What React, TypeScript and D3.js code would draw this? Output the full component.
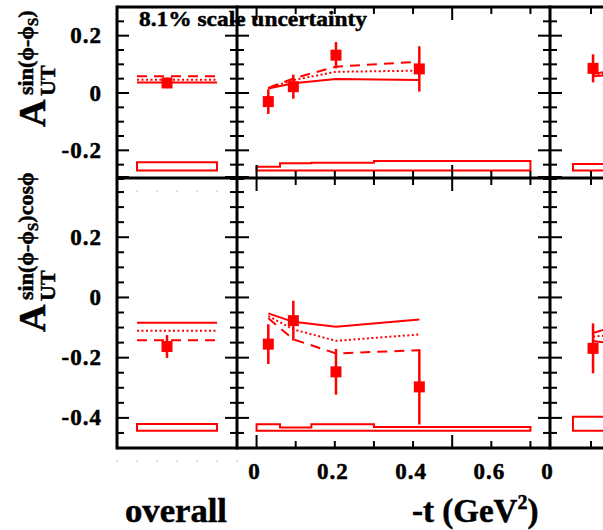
import React from "react";
import * as d3 from "d3";

// ---------- data ----------
const tBins = [0, 0.06, 0.14, 0.3, 0.7];
const tPoints = [0.03, 0.094, 0.203, 0.416];

// A_UT^{sin(phi-phiS)}
const sinVal = [-0.03, 0.022, 0.132, 0.084];
const sinErr = [0.043, 0.042, 0.046, 0.079];
const sinSolid = [0.016, 0.034, 0.049, 0.045];
const sinDotted = [0.017, 0.045, 0.074, 0.078];
const sinDashed = [0.018, 0.051, 0.092, 0.109];
const sinSys = [0.013, 0.025, 0.027, 0.033];
const sinSysBase = -0.27;

// A_UT^{sin(phi-phiS)cos phi}
const cosVal = [-0.155, -0.077, -0.247, -0.297];
const cosErr = [0.066, 0.066, 0.076, 0.125];
const cosSolid = [-0.053, -0.081, -0.097, -0.073];
const cosDotted = [-0.062, -0.106, -0.144, -0.123];
const cosDashed = [-0.069, -0.139, -0.186, -0.175];
const cosSys = [0.022, 0.011, 0.022, 0.013];
const cosSysBase = -0.443;

// overall [sin, cos]
const overallVal = [0.035, -0.163];
const overallErr = [0.018, 0.038];
const overallSolid = [0.037, -0.084];
const overallDotted = [0.046, -0.111];
const overallDashed = [0.058, -0.142];
const overallSys = [0.028, 0.023];

// right (third) panel, partially visible
const rBins = [0.056, 0.3];
const rPoints = [0.105, 0.2];
const rSinVal = [0.086];
const rSinErr = [0.049];
const rSinSolid = [0.058, 0.07];
const rSinDotted = [0.062, 0.08];
const rSinDashed = [0.066, 0.09];
const rSinSys = [0.022];
const rCosVal = [-0.169];
const rCosErr = [0.083];
const rCosSolid = [-0.118, -0.08];
const rCosDotted = [-0.13, -0.12];
const rCosDashed = [-0.145, -0.16];
const rCosSys = [0.047];

const yTickLabelsTop = [0.2, 0, -0.2];
const yTickLabelsBot = [0.2, 0, -0.2, -0.4];
const xTickLabels = [0, 0.2, 0.4, 0.6];

// ---------- layout ----------
const X0 = 117, X1 = 237, X2 = 550, XR = 700;
const YT = 7, YM = 178, YB = 448;
const RED = "#ff0000";
const FONT = "'Liberation Serif', 'Times New Roman', serif";

const yTop = d3.scaleLinear().domain([-0.3, 0.3]).range([179, YT]);
const yBot = d3.scaleLinear().domain([-0.5, 0.4]).range([YB, 177]);
const xLeft = d3.scaleLinear().domain([0, 6]).range([X0, X1]);
const xMid = d3.scaleLinear().domain([-0.05, 0.75]).range([X1, X2]);
const xRight = d3.scaleLinear().domain([0, 0.1]).range([X2, 591]);

const fmt = (v: number) => (Math.abs(v) < 1e-9 ? "0" : String(+v.toFixed(2)));

function sysPath(bins: number[], h: number[], base: number, x: any, y: any) {
  let p = `M${x(bins[0])},${y(base)}`;
  for (let i = 0; i < h.length; i++) {
    p += `L${x(bins[i])},${y(base + h[i])}L${x(bins[i + 1])},${y(base + h[i])}`;
  }
  p += `L${x(bins[bins.length - 1])},${y(base)}Z`;
  return p;
}

function Curves({ xs, solid, dotted, dashed, x, y }: any) {
  const mk = (vals: number[]) =>
    d3.line<number>().x((_, i) => x(xs[i])).y((v) => y(v))(vals) || "";
  return (
    <g fill="none" stroke={RED} strokeWidth={2}>
      <path d={mk(solid)} />
      <path d={mk(dotted)} strokeDasharray="2,2.5" />
      <path d={mk(dashed)} strokeDasharray="10,7" />
    </g>
  );
}

function Points({ xs, vals, errs, x, y }: any) {
  return (
    <g>
      {vals.map((v: number, i: number) => (
        <g key={i}>
          <line x1={x(xs[i])} x2={x(xs[i])} y1={y(v - errs[i])} y2={y(v + errs[i])} stroke={RED} strokeWidth={2.5} />
          <rect x={x(xs[i]) - 5.5} y={y(v) - 5.5} width={11} height={11} fill={RED} />
        </g>
      ))}
    </g>
  );
}

function YTicks({ y, dom, xPos, dir }: any) {
  const vals = d3.range(Math.round(dom[0] / 0.05), Math.round(dom[1] / 0.05) + 1).map((k) => k * 0.05);
  return (
    <g stroke="#000" strokeWidth={2}>
      {vals.map((v, i) => {
        const major = Math.abs(v / 0.2 - Math.round(v / 0.2)) < 1e-6;
        const len = major ? 12 : 7;
        return <line key={i} x1={xPos} x2={xPos + dir * len} y1={y(v)} y2={y(v)} />;
      })}
    </g>
  );
}

function XTicksMid({ yPos, dir }: any) {
  const vals = d3.range(0, 8).map((k) => k * 0.1);
  return (
    <g stroke="#000" strokeWidth={2}>
      {vals.map((v, i) => {
        const major = Math.abs(v / 0.5 - Math.round(v / 0.5)) < 1e-6;
        const len = major ? 13 : 7;
        return <line key={i} x1={xMid(v)} x2={xMid(v)} y1={yPos} y2={yPos + dir * len} />;
      })}
    </g>
  );
}

function XTicksRight({ yPos, dir }: any) {
  return (
    <g stroke="#000" strokeWidth={2}>
      {[0.1].map((v, i) => (
        <line key={i} x1={xRight(v)} x2={xRight(v)} y1={yPos} y2={yPos + dir * 7} />
      ))}
    </g>
  );
}

const T = (p: any) => <text fontFamily={FONT} fontWeight="bold" stroke="#000" strokeWidth={0.5} {...p} />;

export default function App() {
  const rows = [
    { y: yTop, dom: [-0.3, 0.3], idx: 0, val: sinVal, err: sinErr, s: sinSolid, d: sinDotted, da: sinDashed, sys: sinSys, base: sinSysBase,
      rv: rSinVal, re: rSinErr, rs: rSinSolid, rd: rSinDotted, rda: rSinDashed, rsys: rSinSys },
    { y: yBot, dom: [-0.5, 0.4], idx: 1, val: cosVal, err: cosErr, s: cosSolid, d: cosDotted, da: cosDashed, sys: cosSys, base: cosSysBase,
      rv: rCosVal, re: rCosErr, rs: rCosSolid, rd: rCosDotted, rda: rCosDashed, rsys: rCosSys },
  ];
  return (
    <svg width={603} height={530} style={{ position: "absolute", left: 0, top: 0, background: "#fff" }}>
      <rect x={0} y={0} width={603} height={530} fill="#fff" />
      {rows.map((r) => (
        <g key={r.idx}>
          {/* overall panel */}
          <path d={sysPath([1, 5], [overallSys[r.idx]], r.base, xLeft, r.y)} fill="#fff" stroke={RED} strokeWidth={2} />
          <Curves xs={[1, 5]} solid={[overallSolid[r.idx], overallSolid[r.idx]]} dotted={[overallDotted[r.idx], overallDotted[r.idx]]}
            dashed={[overallDashed[r.idx], overallDashed[r.idx]]} x={xLeft} y={r.y} />
          <Points xs={[2.5]} vals={[overallVal[r.idx]]} errs={[overallErr[r.idx]]} x={xLeft} y={r.y} />
          {/* -t panel */}
          <path d={sysPath(tBins, r.sys, r.base, xMid, r.y)} fill="#fff" stroke={RED} strokeWidth={2} />
          <Curves xs={tPoints} solid={r.s} dotted={r.d} dashed={r.da} x={xMid} y={r.y} />
          <Points xs={tPoints} vals={r.val} errs={r.err} x={xMid} y={r.y} />
          {/* third panel */}
          <path d={sysPath(rBins, r.rsys, r.base, xRight, r.y)} fill="#fff" stroke={RED} strokeWidth={2} />
          <Curves xs={rPoints} solid={r.rs} dotted={r.rd} dashed={r.rda} x={xRight} y={r.y} />
          <Points xs={rPoints} vals={r.rv} errs={r.re} x={xRight} y={r.y} />
          {/* y ticks */}
          <YTicks y={r.y} dom={r.dom} xPos={X0} dir={1} />
          <YTicks y={r.y} dom={r.dom} xPos={X1} dir={-1} />
          <YTicks y={r.y} dom={r.dom} xPos={X1} dir={1} />
          <YTicks y={r.y} dom={r.dom} xPos={X2} dir={-1} />
          <YTicks y={r.y} dom={r.dom} xPos={X2} dir={1} />
          {(r.idx === 0 ? yTickLabelsTop : yTickLabelsBot).map((v, i) => (
            <T key={i} x={102} y={r.y(v) + 7.5} fontSize={23} textAnchor="end" letterSpacing={1}>{fmt(v)}</T>
          ))}
        </g>
      ))}
      {/* x ticks */}
      <XTicksMid yPos={YT} dir={1} />
      <XTicksMid yPos={YM} dir={-1} />
      <XTicksMid yPos={YM} dir={1} />
      <XTicksMid yPos={YB} dir={-1} />
      <XTicksRight yPos={YT} dir={1} />
      <XTicksRight yPos={YM} dir={-1} />
      <XTicksRight yPos={YM} dir={1} />
      <XTicksRight yPos={YB} dir={-1} />
      {/* faint overall ticks */}
      <g fill="#c8c8c8">
        {d3.range(0, 7).map((k) => (
          <rect key={"a" + k} x={xLeft(k) - 0.75} y={460.5} width={1.5} height={1.5} />
        ))}
        {d3.range(1, 6).map((k) => (
          <rect key={"b" + k} x={xLeft(k) - 0.75} y={190.5} width={1.5} height={1.5} />
        ))}
      </g>
      <T x={139} y={26} fontSize={22} textLength={228} lengthAdjust="spacingAndGlyphs">8.1% scale uncertainty</T>
      {/* frames */}
      <g stroke="#000" strokeWidth={3} fill="none">
        <line x1={X0} x2={XR} y1={YT} y2={YT} />
        <line x1={X0} x2={XR} y1={YM} y2={YM} />
        <line x1={X0} x2={XR} y1={YB} y2={YB} />
        <line x1={X0} x2={X0} y1={YT - 1.5} y2={YB + 1.5} />
        <line x1={X1} x2={X1} y1={YT - 1.5} y2={YB + 1.5} />
        <line x1={X2} x2={X2} y1={YT - 1.5} y2={YB + 1.5} />
      </g>
      {/* x tick labels */}
      {xTickLabels.map((v, i) => (
        <T key={i} x={xMid(v) - 2} y={479} fontSize={23} textAnchor="middle" letterSpacing={1}>{fmt(v)}</T>
      ))}
      <T x={xRight(0) - 3} y={479} fontSize={23} textAnchor="middle">0</T>
      {/* axis titles */}
      <T x={125} y={522} fontSize={33} textLength={102} lengthAdjust="spacingAndGlyphs">overall</T>
      <T x={412} y={522} fontSize={33}>
        -t (GeV<tspan fontSize={20} dy={-13}>2</tspan><tspan dy={13}>)</tspan>
      </T>
      {/* y titles */}
      <g transform="translate(45,127) rotate(-90)">
        <T x={0} y={0} fontSize={38}>A</T>
        <T x={31} y={10} fontSize={22}>UT</T>
        <T x={32} y={-12} fontSize={22}>
          sin(ϕ-ϕ<tspan fontSize={15} dy={5}>S</tspan><tspan dy={-5}>)</tspan>
        </T>
      </g>
      <g transform="translate(45,332) rotate(-90)">
        <T x={0} y={0} fontSize={38}>A</T>
        <T x={31} y={10} fontSize={22}>UT</T>
        <T x={32} y={-12} fontSize={22}>
          sin(ϕ-ϕ<tspan fontSize={15} dy={5}>S</tspan><tspan dy={-5}>)cosϕ</tspan>
        </T>
      </g>
    </svg>
  );
}
